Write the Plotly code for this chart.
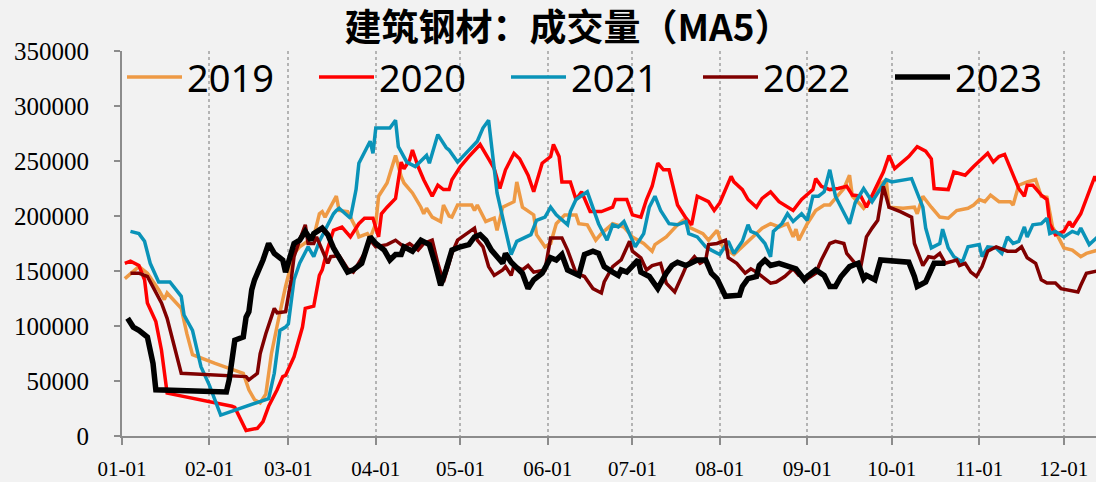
import pandas as pd
import plotly.graph_objects as go

# day offsets from 01-01 and MA5 turnover values
days_2019 = [1, 4, 6, 9, 13, 15, 16, 21, 23, 25, 33, 43, 45, 47, 49, 51, 53, 55, 58, 61,
             63, 68, 70, 71, 72, 76, 77, 80, 83, 84, 87, 88, 90, 91, 94, 97, 99, 100, 103, 106,
             107, 108, 110, 113, 114, 116, 117, 119, 124, 125, 126, 129, 132, 133, 135, 139, 140, 142, 146, 147,
             150, 152, 154, 157, 161, 162, 165, 168, 170, 174, 178, 181, 185, 188, 189, 193, 197, 199, 201, 206,
             208, 211, 213, 217, 220, 224, 227, 230, 233, 236, 238, 239, 240, 243, 246, 249, 251, 254, 256, 258,
             259, 262, 263, 266, 268, 271, 272, 277, 281, 282, 284, 287, 290, 293, 296, 300, 302, 304, 306, 308,
             311, 315, 316, 318, 321, 324, 326, 328, 330, 332, 334, 337, 340, 342, 346]
vals_2019 = [143000, 150000, 154000, 148000, 133000, 124000, 130000, 116000, 93000, 74000, 66000, 57000, 42000, 33000, 30000, 38000, 75000, 100000, 136000, 166000,
             172000, 181000, 202000, 204000, 199000, 218000, 205000, 204000, 189000, 181000, 184000, 180000, 193000, 218000, 230000, 255000, 236000, 230000, 221000, 208000,
             202000, 207000, 199000, 195000, 210000, 200000, 199000, 210000, 210000, 205000, 210000, 195000, 198000, 187000, 208000, 213000, 231000, 208000, 201000, 183000,
             172000, 175000, 193000, 201000, 201000, 193000, 192000, 178000, 184000, 193000, 190000, 181000, 175000, 168000, 174000, 181000, 192000, 196000, 190000, 184000,
             178000, 187000, 172000, 165000, 172000, 181000, 189000, 193000, 190000, 193000, 181000, 188000, 178000, 193000, 205000, 210000, 210000, 219000, 225000, 237000,
             218000, 210000, 207000, 216000, 227000, 233000, 208000, 207000, 208000, 202000, 218000, 208000, 199000, 198000, 205000, 207000, 210000, 215000, 213000, 219000,
             213000, 213000, 210000, 228000, 231000, 233000, 218000, 217000, 190000, 181000, 171000, 169000, 163000, 166000, 169000]

days_2020 = [1, 3, 6, 8, 9, 12, 14, 16, 39, 40, 44, 48, 50, 52, 55, 57, 58, 61, 64, 65,
             68, 70, 71, 73, 75, 78, 81, 84, 86, 89, 91, 92, 94, 97, 99, 100, 102, 103, 105, 107,
             110, 112, 114, 116, 117, 120, 123, 127, 130, 132, 134, 136, 139, 141, 144, 146, 149, 152, 153, 155,
             156, 159, 161, 163, 166, 170, 174, 175, 179, 181, 184, 186, 188, 190, 192, 194, 197, 200, 202, 204,
             208, 210, 212, 216, 217, 220, 222, 225, 227, 230, 233, 235, 238, 241, 245, 246, 248, 251, 254, 257,
             259, 262, 264, 267, 270, 272, 274, 279, 282, 285, 287, 288, 293, 295, 299, 302, 307, 309, 311, 313,
             316, 318, 320, 321, 323, 326, 328, 329, 331, 334, 336, 337, 340, 342, 345, 346]
vals_2020 = [157000, 159000, 155000, 142000, 121000, 104000, 78000, 39000, 27000, 26000, 5000, 7000, 13000, 27000, 42000, 54000, 55000, 72000, 99000, 116000,
             118000, 146000, 151000, 171000, 187000, 190000, 181000, 193000, 198000, 198000, 181000, 202000, 208000, 216000, 249000, 243000, 251000, 260000, 245000, 233000,
             218000, 228000, 224000, 224000, 233000, 245000, 254000, 265000, 252000, 243000, 225000, 242000, 257000, 252000, 237000, 222000, 248000, 254000, 265000, 254000,
             231000, 231000, 215000, 222000, 204000, 204000, 208000, 215000, 215000, 201000, 199000, 215000, 227000, 248000, 242000, 242000, 210000, 198000, 192000, 218000,
             213000, 205000, 212000, 236000, 231000, 224000, 215000, 208000, 216000, 222000, 213000, 210000, 205000, 215000, 224000, 234000, 227000, 224000, 225000, 227000,
             219000, 218000, 208000, 224000, 240000, 255000, 243000, 254000, 263000, 259000, 252000, 225000, 224000, 240000, 237000, 245000, 257000, 249000, 254000, 256000,
             237000, 225000, 218000, 228000, 228000, 219000, 215000, 193000, 183000, 186000, 195000, 190000, 202000, 215000, 236000, 231000]

days_2021 = [3, 6, 8, 10, 13, 17, 21, 22, 25, 28, 31, 35, 52, 54, 56, 58, 59, 61, 63, 66,
             68, 70, 72, 75, 76, 77, 81, 83, 84, 88, 89, 90, 95, 97, 98, 101, 104, 108, 109, 112,
             115, 116, 119, 123, 126, 128, 130, 133, 136, 138, 140, 143, 145, 147, 150, 152, 154, 158, 159, 161,
             165, 169, 172, 174, 176, 178, 180, 182, 185, 187, 189, 191, 194, 197, 200, 201, 204, 207, 209, 212,
             215, 217, 220, 222, 223, 225, 228, 230, 231, 234, 236, 238, 241, 243, 245, 247, 249, 251, 253, 256,
             258, 260, 263, 266, 268, 271, 273, 280, 284, 285, 287, 290, 291, 293, 295, 298, 300, 304, 305, 307,
             310, 312, 314, 316, 318, 320, 321, 323, 326, 328, 329, 331, 334, 337, 339, 340, 343, 346]
vals_2021 = [186000, 184000, 177000, 157000, 140000, 140000, 127000, 110000, 96000, 63000, 46000, 19000, 34000, 57000, 96000, 99000, 102000, 142000, 157000, 172000,
             163000, 177000, 187000, 202000, 205000, 207000, 198000, 224000, 248000, 268000, 257000, 280000, 280000, 287000, 263000, 249000, 245000, 255000, 248000, 274000,
             262000, 260000, 249000, 260000, 268000, 280000, 287000, 221000, 186000, 165000, 177000, 181000, 183000, 196000, 199000, 208000, 201000, 192000, 204000, 215000,
             222000, 193000, 178000, 192000, 190000, 195000, 184000, 172000, 184000, 208000, 218000, 205000, 193000, 192000, 195000, 184000, 181000, 172000, 169000, 165000,
             177000, 166000, 177000, 192000, 186000, 184000, 175000, 163000, 186000, 193000, 202000, 195000, 202000, 196000, 218000, 218000, 222000, 242000, 218000, 202000,
             193000, 212000, 225000, 213000, 221000, 233000, 231000, 234000, 208000, 189000, 171000, 175000, 188000, 171000, 163000, 158000, 172000, 174000, 163000, 172000,
             171000, 166000, 181000, 175000, 177000, 190000, 181000, 192000, 193000, 198000, 184000, 186000, 181000, 186000, 184000, 189000, 174000, 181000]

days_2022 = [3, 6, 9, 11, 14, 16, 21, 44, 45, 48, 49, 51, 54, 55, 58, 60, 61, 63, 65, 66,
             68, 69, 73, 74, 77, 80, 82, 86, 88, 90, 94, 97, 100, 102, 105, 107, 110, 112, 114, 116,
             117, 119, 122, 125, 126, 128, 130, 132, 135, 136, 138, 139, 142, 144, 146, 150, 152, 156, 158, 161,
             164, 167, 170, 171, 174, 177, 180, 181, 184, 186, 188, 191, 193, 196, 199, 200, 203, 205, 207, 208,
             211, 214, 215, 218, 221, 223, 225, 227, 230, 232, 235, 238, 240, 243, 246, 248, 251, 253, 256, 257,
             258, 260, 262, 264, 266, 268, 270, 272, 276, 280, 281, 282, 284, 286, 288, 290, 292, 296, 297, 299,
             301, 303, 305, 307, 310, 314, 317, 319, 321, 324, 326, 328, 331, 333, 339, 340, 342, 346]
vals_2022 = [148000, 148000, 145000, 136000, 121000, 107000, 57000, 54000, 51000, 57000, 75000, 93000, 116000, 112000, 113000, 142000, 163000, 178000, 192000, 175000,
             175000, 181000, 157000, 163000, 164000, 152000, 149000, 166000, 178000, 172000, 174000, 178000, 172000, 175000, 169000, 175000, 178000, 157000, 140000, 157000,
             166000, 178000, 184000, 189000, 178000, 172000, 154000, 146000, 151000, 154000, 146000, 155000, 151000, 155000, 149000, 151000, 180000, 180000, 169000, 148000,
             145000, 134000, 130000, 140000, 154000, 160000, 177000, 168000, 162000, 151000, 155000, 157000, 139000, 131000, 148000, 154000, 163000, 157000, 160000, 174000,
             175000, 178000, 162000, 157000, 148000, 152000, 149000, 145000, 139000, 140000, 145000, 152000, 146000, 143000, 148000, 160000, 175000, 177000, 175000, 166000,
             163000, 157000, 154000, 181000, 189000, 196000, 227000, 208000, 204000, 199000, 175000, 169000, 155000, 163000, 162000, 166000, 157000, 160000, 155000, 157000,
             149000, 145000, 154000, 168000, 172000, 168000, 168000, 172000, 162000, 157000, 142000, 139000, 139000, 134000, 131000, 137000, 148000, 150000]

days_2023 = [2, 4, 6, 9, 11, 12, 37, 38, 40, 43, 44, 45, 46, 47, 50, 52, 54, 57, 58, 61,
             63, 65, 67, 68, 71, 73, 75, 77, 80, 82, 85, 88, 90, 93, 95, 97, 99, 100, 103, 106,
             109, 111, 113, 115, 117, 120, 123, 125, 127, 129, 131, 135, 136, 138, 142, 144, 146, 149, 152, 154,
             156, 158, 162, 164, 167, 169, 171, 174, 176, 177, 179, 183, 184, 187, 190, 193, 195, 197, 200, 204,
             207, 209, 211, 214, 219, 220, 222, 225, 226, 228, 230, 233, 235, 239, 242, 243, 246, 249, 251, 253,
             255, 258, 261, 263, 264, 267, 269, 279, 281, 282, 285, 288, 292]
vals_2023 = [107000, 99000, 96000, 90000, 66000, 42000, 40000, 51000, 87000, 90000, 108000, 113000, 133000, 142000, 160000, 175000, 166000, 160000, 149000, 175000,
             178000, 186000, 178000, 184000, 189000, 183000, 171000, 163000, 149000, 151000, 157000, 181000, 175000, 169000, 160000, 165000, 165000, 172000, 168000, 178000,
             174000, 157000, 137000, 152000, 169000, 172000, 174000, 181000, 183000, 178000, 169000, 157000, 166000, 158000, 148000, 134000, 142000, 148000, 162000, 160000,
             165000, 151000, 146000, 165000, 168000, 166000, 154000, 149000, 146000, 151000, 149000, 160000, 149000, 145000, 134000, 148000, 155000, 158000, 155000, 160000,
             160000, 148000, 143000, 127000, 128000, 136000, 143000, 145000, 155000, 160000, 155000, 157000, 155000, 152000, 142000, 145000, 151000, 146000, 136000, 136000,
             145000, 154000, 157000, 143000, 146000, 142000, 160000, 158000, 145000, 136000, 140000, 157000, 157000]

SERIES = [
    ("2019", days_2019, vals_2019, "#EE9A45", 3.5),
    ("2020", days_2020, vals_2020, "#FF0000", 3.5),
    ("2021", days_2021, vals_2021, "#0A93B8", 3.5),
    ("2022", days_2022, vals_2022, "#800000", 3.5),
    ("2023", days_2023, vals_2023, "#000000", 5.5),
]

BASE = pd.Timestamp("2023-01-01")
AXIS_GREY = "#8c8c8c"
SERIF = "Liberation Serif, Times New Roman, serif"

fig = go.Figure()
for name, days, vals, color, width in SERIES:
    fig.add_trace(go.Scatter(
        x=BASE + pd.to_timedelta(days, unit="D"),
        y=vals,
        mode="lines",
        name=name,
        line=dict(color=color, width=width),
    ))

fig.update_layout(
    width=1096,
    height=482,
    paper_bgcolor="#f2f2f2",
    plot_bgcolor="#f2f2f2",
    margin=dict(l=122, r=0, t=51, b=46),
    title=dict(
        text="<b>建筑钢材：成交量（MA5）</b>",
        x=568 / 1096, xanchor="center",
        y=1 - 28 / 482, yanchor="middle",
        font=dict(family="Noto Sans CJK SC", size=37, color="black"),
    ),
    legend=dict(
        orientation="h",
        x=0, xanchor="left",
        y=0.932, yanchor="middle",
        font=dict(family="Noto Sans, Noto Sans CJK SC", size=38, color="black"),
        bgcolor="rgba(0,0,0,0)",
        entrywidth=122,
        itemwidth=55,
        traceorder="normal",
    ),
    showlegend=True,
)

fig.update_xaxes(
    type="date",
    range=[BASE, BASE + pd.Timedelta(days=345.4)],
    tick0="2023-01-01",
    dtick="M1",
    tickformat="%m-%d",
    ticks="outside",
    ticklen=7,
    tickwidth=2,
    tickcolor=AXIS_GREY,
    showline=True,
    linecolor=AXIS_GREY,
    linewidth=2,
    showgrid=True,
    gridcolor="#b4b4b4",
    griddash="dot",
    gridwidth=1.5,
    zeroline=False,
    tickfont=dict(family=SERIF, size=21, color="black"),
    ticklabelstandoff=6,
)

fig.update_yaxes(
    range=[0, 350000],
    tickvals=[0, 50000, 100000, 150000, 200000, 250000, 300000, 350000],
    ticktext=["0", "50000", "100000", "150000", "200000", "250000", "300000", "350000"],
    ticks="outside",
    ticklen=6,
    tickwidth=2,
    tickcolor=AXIS_GREY,
    showline=True,
    linecolor=AXIS_GREY,
    linewidth=2,
    showgrid=False,
    zeroline=False,
    tickfont=dict(family=SERIF, size=25, color="black"),
    ticklabelstandoff=20,
)

fig.write_html(
    "out.html",
    config={"displayModeBar": False},
    post_script="document.body.style.margin='0';document.body.style.background='#f2f2f2';",
)
